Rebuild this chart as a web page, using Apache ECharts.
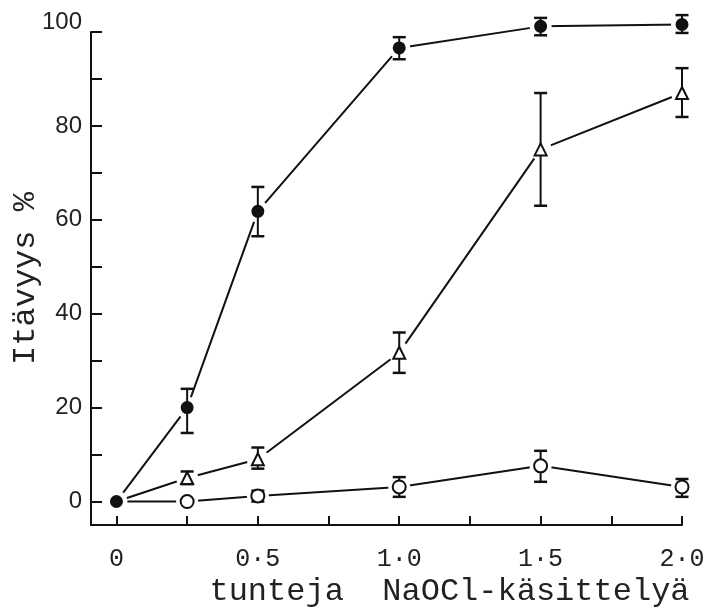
<!DOCTYPE html>
<html>
<head>
<meta charset="utf-8">
<script src="https://cdn.jsdelivr.net/npm/echarts@6/dist/echarts.min.js"></script>
<style>
html, body { margin: 0; background: #fff; }
#chart { width: 712px; height: 611px; }
</style>
</head>
<body>
<div id="chart"></div>
<script>
// hours of NaOCl treatment
var hours = [0, 0.25, 0.5, 1.0, 1.5, 2.0];

// filled circles
var filledVals = [0, 20, 61.8, 96.6, 101.2, 101.6];
var filledLow = [null, 14.6, 56.5, 94.2, 99.3, 99.8];
var filledHigh = [null, 24, 67, 98.9, 103, 103.6];

// triangles
var triVals = [0, 5, 9, 31.7, 75, 87];
var triLow = [null, 3.7, 7, 27.4, 63, 81.9];
var triHigh = [null, 6.4, 11.5, 36, 87, 92.3];

// open circles
var openVals = [0, 0, 1.2, 3.1, 7.6, 3.1];
var openLow = [null, null, 0, 1, 4.2, 1];
var openHigh = [null, null, 2.3, 5.2, 10.8, 4.8];

var xTicks = [0, 0.25, 0.5, 0.75, 1.0, 1.25, 1.5, 1.75, 2.0];
var xLabels = [0, 0.5, 1.0, 1.5, 2.0];
var yTicks = [0, 10, 20, 30, 40, 50, 60, 70, 80, 90, 100];
var yLabels = [0, 20, 40, 60, 80, 100];

var ink = '#111';

function pairs(vals, from) {
    var out = [];
    for (var i = from; i < hours.length; i++) {
        out.push([hours[i], vals[i]]);
    }
    return out;
}

function lineSeries(vals) {
    return {
        type: 'line',
        data: pairs(vals, 0),
        symbol: 'none',
        clip: false,
        z: 2,
        lineStyle: { color: ink, width: 2 }
    };
}

// white disc under each marker so the joining lines stop short of it
function haloSeries(vals, from, size) {
    return {
        type: 'scatter',
        data: pairs(vals, from),
        symbol: 'circle',
        symbolSize: size,
        clip: false,
        z: 3,
        itemStyle: { color: '#fff', opacity: 1 }
    };
}

function markerSeries(vals, from, symbol, size, fill) {
    return {
        type: 'scatter',
        data: pairs(vals, from),
        symbol: symbol,
        symbolSize: size,
        clip: false,
        z: 5,
        itemStyle: { color: fill, borderColor: ink, borderWidth: 2, opacity: 1 }
    };
}

function errorSeries(low, high) {
    var d = [];
    for (var i = 0; i < hours.length; i++) {
        if (low[i] != null) {
            d.push([hours[i], low[i], high[i]]);
        }
    }
    return {
        type: 'custom',
        data: d,
        z: 4,
        encode: { x: 0, y: [1, 2] },
        renderItem: function (params, api) {
            var x = api.value(0);
            var lo = api.coord([x, api.value(1)]);
            var hi = api.coord([x, api.value(2)]);
            var w = 6.5;
            var st = { stroke: ink, lineWidth: 2 };
            var cap = { stroke: ink, lineWidth: 2.5 };
            return {
                type: 'group',
                children: [
                    { type: 'line', shape: { x1: lo[0], y1: lo[1], x2: hi[0], y2: hi[1] }, style: st },
                    { type: 'line', shape: { x1: lo[0] - w, y1: lo[1], x2: lo[0] + w, y2: lo[1] }, style: cap },
                    { type: 'line', shape: { x1: hi[0] - w, y1: hi[1], x2: hi[0] + w, y2: hi[1] }, style: cap }
                ]
            };
        }
    };
}

var chart = echarts.init(document.getElementById('chart'));

chart.setOption({
    animation: false,
    backgroundColor: '#fff',
    grid: { left: 91, right: 30, top: 32, bottom: 86, outerBoundsMode: 'none' },
    xAxis: {
        type: 'value',
        min: -0.09,
        max: 2.0,
        name: 'tunteja  NaOCl-käsittelyä',
        nameLocation: 'middle',
        nameGap: 51,
        nameMoveOverlap: false,
        nameTextStyle: {
            fontFamily: 'Liberation Mono',
            fontSize: 32,
            color: '#222',
            padding: [0, 0, 0, 126]
        },
        splitLine: { show: false },
        axisLine: { onZero: false, lineStyle: { color: ink, width: 2 } },
        axisTick: {
            inside: true,
            length: 9,
            customValues: xTicks,
            lineStyle: { color: ink, width: 2 }
        },
        axisLabel: {
            customValues: xLabels,
            margin: 22,
            fontFamily: 'Liberation Mono',
            fontSize: 25,
            color: '#222',
            formatter: function (v) {
                if (v === 0) return '0';
                return v.toFixed(1).replace('.', '·');
            }
        }
    },
    yAxis: {
        type: 'value',
        min: -5,
        max: 100,
        name: 'Itävyys %',
        nameLocation: 'middle',
        nameRotate: 90,
        nameGap: 49,
        nameMoveOverlap: false,
        nameTextStyle: {
            fontFamily: 'Liberation Mono',
            fontSize: 32,
            color: '#222'
        },
        splitLine: { show: false },
        axisLine: { onZero: false, lineStyle: { color: ink, width: 2 } },
        axisTick: {
            inside: true,
            length: 11,
            customValues: yTicks,
            lineStyle: { color: ink, width: 2 }
        },
        axisLabel: {
            customValues: yLabels,
            margin: 9,
            fontFamily: 'Liberation Sans',
            fontSize: 24,
            color: '#222',
            formatter: function (v) {
                return v === 100 ? '{up|100}' : String(v);
            },
            rich: {
                up: {
                    fontFamily: 'Liberation Sans',
                    fontSize: 24,
                    color: '#222',
                    padding: [0, 0, 20, 0]
                }
            }
        }
    },
    series: [
        lineSeries(filledVals),
        lineSeries(triVals),
        lineSeries(openVals),
        haloSeries(filledVals, 0, 22),
        haloSeries(triVals, 1, 22),
        haloSeries(openVals, 1, 22),
        errorSeries(filledLow, filledHigh),
        errorSeries(triLow, triHigh),
        errorSeries(openLow, openHigh),
        markerSeries(filledVals, 0, 'circle', 11, ink),
        markerSeries(triVals, 1, 'triangle', 12, '#fff'),
        markerSeries(openVals, 1, 'circle', 13, '#fff')
    ]
});
</script>
</body>
</html>
